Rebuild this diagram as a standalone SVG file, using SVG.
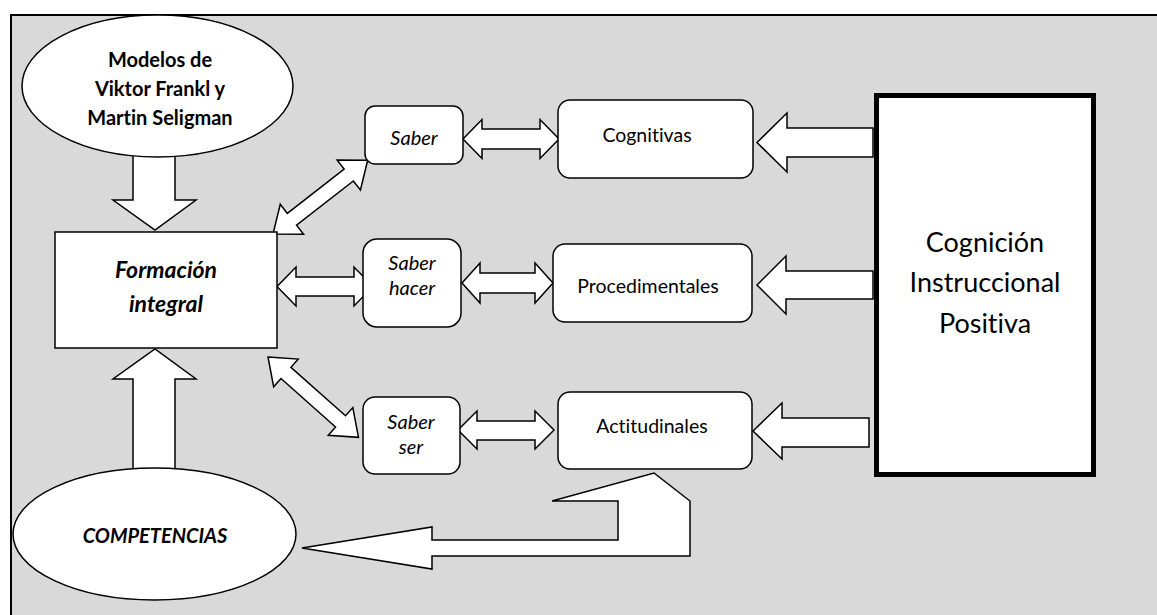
<svg xmlns="http://www.w3.org/2000/svg" width="1157" height="615" viewBox="0 0 1157 615">
<style>
.sh{fill:#fff;stroke:#000;stroke-width:1.5;stroke-linejoin:miter}
.bx{fill:#fff;stroke:#000;stroke-width:1.5}
.t{font-family:Lato,"Open Sans",sans-serif;fill:#000;text-anchor:middle;font-variant-ligatures:none;font-feature-settings:"liga" 0,"dlig" 0}
.b{font-weight:bold}
.i{font-style:italic}
</style>
<rect x="11" y="15" width="1160" height="620" fill="#d9d9d9" stroke="#000" stroke-width="2"/>
<g id="connectors">
<polygon class="sh" points="133,150 175,150 175,200 196,200 155,230 113,200 133,200"/>
<polygon class="sh" points="133,475 175,475 175,379 196,379 155,349 113,379 133,379"/>
<polygon class="sh" transform="translate(273,234) rotate(-37.9)" points="0,0 24,-19 24,-7.5 96,-7.5 96,-19 120,0 96,19 96,7.5 24,7.5 24,19"/>
<polygon class="sh" transform="translate(268,357) rotate(41.6)" points="0,0 24,-18.5 24,-7.5 97,-7.5 97,-18.5 121,0 97,18.5 97,7.5 24,7.5 24,18.5"/>
<polygon class="sh" points="463,139 482,119.5 482,129 540,129 540,119.5 559,139 540,158.5 540,149 482,149 482,158.5"/>
<polygon class="sh" points="277,286.5 296,267 296,277 354,277 354,267 373,286.5 354,306 354,296 296,296 296,306"/>
<polygon class="sh" points="462,283 480,263 480,273 535,273 535,263 553,283 535,303 535,293 480,293 480,303"/>
<polygon class="sh" points="458,430 477,411 477,421 535,421 535,411 554,430 535,449 535,440 477,440 477,449"/>
<polygon class="sh" points="757,142.5 787,113 787,128 873,128 873,157 787,157 787,172"/>
<polygon class="sh" points="757,285 786,256 786,271 873,271 873,299 786,299 786,314"/>
<polygon class="sh" points="753,431 782,403 782,418 869,418 869,447 782,447 782,459"/>
<polygon class="sh" points="302,548 432,527 432,540 618,540 618,501 552,501 654,473 690,501 690,556 432,556 432,569"/>
</g>
<g id="modelos">
<ellipse class="bx" cx="157.5" cy="86" rx="135.5" ry="71"/>
<text class="t b" x="160" y="67" font-size="20">Modelos de</text>
<text class="t b" x="160" y="96" font-size="20">Viktor Frankl y</text>
<text class="t b" x="160" y="125" font-size="20">Martin Seligman</text>
</g>
<g id="formacion">
<rect class="bx" x="55" y="232" width="222" height="116"/>
<text class="t b i" x="166" y="278" font-size="23">Formación</text>
<text class="t b i" x="166" y="312" font-size="23">integral</text>
</g>
<g id="competencias">
<ellipse class="bx" cx="154.5" cy="534" rx="141.5" ry="66"/>
<text class="t b i" x="155" y="543" font-size="20">COMPETENCIAS</text>
</g>
<g id="saber">
<rect class="bx" x="365" y="106" width="98" height="58" rx="10"/>
<text class="t i" x="414" y="145" font-size="20">Saber</text>
</g>
<g id="saber-hacer">
<rect class="bx" x="363" y="239" width="98" height="88" rx="14"/>
<text class="t i" x="412" y="270" font-size="20">Saber</text>
<text class="t i" x="412" y="295" font-size="20">hacer</text>
</g>
<g id="saber-ser">
<rect class="bx" x="363" y="397" width="97" height="77" rx="12"/>
<text class="t i" x="411" y="429" font-size="20">Saber</text>
<text class="t i" x="411" y="454" font-size="20">ser</text>
</g>
<g id="cognitivas">
<rect class="bx" x="558" y="100" width="195" height="78" rx="12"/>
<text class="t" x="647" y="142" font-size="19.5">Cognitivas</text>
</g>
<g id="procedimentales">
<rect class="bx" x="553" y="244" width="199" height="78" rx="12"/>
<text class="t" x="648" y="293" font-size="19.5">Procedimentales</text>
</g>
<g id="actitudinales">
<rect class="bx" x="558" y="392" width="194" height="77" rx="12"/>
<text class="t" x="652" y="433" font-size="19.5">Actitudinales</text>
</g>
<g id="cip">
<rect x="876.5" y="95.5" width="217" height="379" fill="#fff" stroke="#000" stroke-width="5"/>
<text class="t" x="985" y="252" font-size="27">Cognición</text>
<text class="t" x="985" y="292" font-size="27">Instruccional</text>
<text class="t" x="985" y="333" font-size="27">Positiva</text>
</g>
</svg>
